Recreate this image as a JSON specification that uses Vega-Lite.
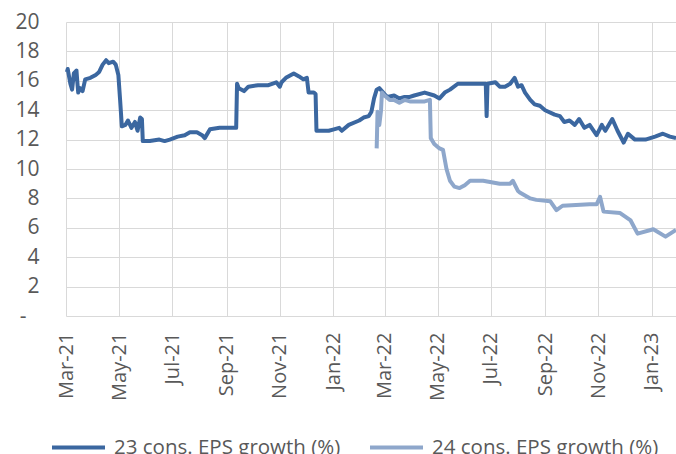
{
  "$schema": "https://vega.github.io/schema/vega-lite/v6.json",
  "autosize": "none",
  "width": 610,
  "height": 294,
  "padding": {"left": 66, "top": 22, "right": 0, "bottom": 138},
  "background": "white",
  "config": {
    "font": "Open Sans",
    "view": {"stroke": null},
    "axis": {"labelFont": "Open Sans", "labelColor": "#595959", "labelFontSize": 21, "gridColor": "#D9D9D9", "gridWidth": 1, "domain": false, "ticks": false, "title": null, "labelOverlap": false}
  },
  "datasets": {
    "d23": [
      {"date": "2021-03-02", "v": 16.6}, {"date": "2021-03-03", "v": 16.8}, {"date": "2021-03-06", "v": 15.8}, {"date": "2021-03-08", "v": 15.4},
      {"date": "2021-03-10", "v": 16.5}, {"date": "2021-03-13", "v": 16.7}, {"date": "2021-03-14", "v": 15.9}, {"date": "2021-03-15", "v": 15.2},
      {"date": "2021-03-17", "v": 15.5}, {"date": "2021-03-20", "v": 15.3}, {"date": "2021-03-23", "v": 16.1}, {"date": "2021-03-29", "v": 16.2},
      {"date": "2021-04-04", "v": 16.4}, {"date": "2021-04-08", "v": 16.6}, {"date": "2021-04-12", "v": 17.1}, {"date": "2021-04-16", "v": 17.4},
      {"date": "2021-04-19", "v": 17.2}, {"date": "2021-04-24", "v": 17.3}, {"date": "2021-04-27", "v": 17.1}, {"date": "2021-04-30", "v": 16.4},
      {"date": "2021-05-02", "v": 14.7}, {"date": "2021-05-04", "v": 12.9}, {"date": "2021-05-08", "v": 13.0}, {"date": "2021-05-11", "v": 13.3},
      {"date": "2021-05-15", "v": 12.8}, {"date": "2021-05-19", "v": 13.2}, {"date": "2021-05-22", "v": 12.6}, {"date": "2021-05-25", "v": 13.5},
      {"date": "2021-05-27", "v": 13.4}, {"date": "2021-05-28", "v": 11.9}, {"date": "2021-06-05", "v": 11.9}, {"date": "2021-06-16", "v": 12.0},
      {"date": "2021-06-22", "v": 11.9}, {"date": "2021-06-28", "v": 12.0}, {"date": "2021-07-07", "v": 12.2}, {"date": "2021-07-15", "v": 12.3},
      {"date": "2021-07-21", "v": 12.5}, {"date": "2021-07-29", "v": 12.5}, {"date": "2021-08-04", "v": 12.3}, {"date": "2021-08-07", "v": 12.1},
      {"date": "2021-08-13", "v": 12.7}, {"date": "2021-08-24", "v": 12.8}, {"date": "2021-09-12", "v": 12.8}, {"date": "2021-09-13", "v": 15.8},
      {"date": "2021-09-15", "v": 15.5}, {"date": "2021-09-21", "v": 15.3}, {"date": "2021-09-26", "v": 15.6}, {"date": "2021-10-07", "v": 15.7},
      {"date": "2021-10-19", "v": 15.7}, {"date": "2021-10-28", "v": 15.9}, {"date": "2021-11-01", "v": 15.6}, {"date": "2021-11-03", "v": 15.9},
      {"date": "2021-11-08", "v": 16.2}, {"date": "2021-11-17", "v": 16.5}, {"date": "2021-11-23", "v": 16.3}, {"date": "2021-11-28", "v": 16.1},
      {"date": "2021-12-02", "v": 16.2}, {"date": "2021-12-04", "v": 15.2}, {"date": "2021-12-10", "v": 15.2}, {"date": "2021-12-12", "v": 15.1},
      {"date": "2021-12-13", "v": 12.6}, {"date": "2021-12-27", "v": 12.6}, {"date": "2022-01-02", "v": 12.7}, {"date": "2022-01-08", "v": 12.8},
      {"date": "2022-01-11", "v": 12.6}, {"date": "2022-01-19", "v": 13.0}, {"date": "2022-01-31", "v": 13.3}, {"date": "2022-02-05", "v": 13.5},
      {"date": "2022-02-11", "v": 13.6}, {"date": "2022-02-14", "v": 13.9}, {"date": "2022-02-17", "v": 14.8}, {"date": "2022-02-20", "v": 15.4},
      {"date": "2022-02-23", "v": 15.5}, {"date": "2022-03-01", "v": 15.1}, {"date": "2022-03-04", "v": 14.9}, {"date": "2022-03-12", "v": 15.0},
      {"date": "2022-03-18", "v": 14.8}, {"date": "2022-03-24", "v": 14.9}, {"date": "2022-03-30", "v": 14.9}, {"date": "2022-04-04", "v": 15.0},
      {"date": "2022-04-16", "v": 15.2}, {"date": "2022-04-27", "v": 15.0}, {"date": "2022-05-03", "v": 14.8}, {"date": "2022-05-09", "v": 15.2},
      {"date": "2022-05-15", "v": 15.4}, {"date": "2022-05-24", "v": 15.8}, {"date": "2022-06-01", "v": 15.8}, {"date": "2022-06-25", "v": 15.8},
      {"date": "2022-06-26", "v": 13.6}, {"date": "2022-06-27", "v": 15.8}, {"date": "2022-07-06", "v": 15.9}, {"date": "2022-07-11", "v": 15.6},
      {"date": "2022-07-17", "v": 15.6}, {"date": "2022-07-23", "v": 15.8}, {"date": "2022-07-28", "v": 16.2}, {"date": "2022-08-01", "v": 15.6},
      {"date": "2022-08-05", "v": 15.7}, {"date": "2022-08-09", "v": 15.2}, {"date": "2022-08-15", "v": 14.7}, {"date": "2022-08-20", "v": 14.4},
      {"date": "2022-08-26", "v": 14.3}, {"date": "2022-09-01", "v": 14.0}, {"date": "2022-09-12", "v": 13.7}, {"date": "2022-09-18", "v": 13.6},
      {"date": "2022-09-23", "v": 13.2}, {"date": "2022-09-29", "v": 13.3}, {"date": "2022-10-05", "v": 13.0}, {"date": "2022-10-10", "v": 13.4},
      {"date": "2022-10-16", "v": 12.8}, {"date": "2022-10-22", "v": 13.0}, {"date": "2022-10-30", "v": 12.3}, {"date": "2022-11-05", "v": 13.0},
      {"date": "2022-11-09", "v": 12.6}, {"date": "2022-11-17", "v": 13.4}, {"date": "2022-11-23", "v": 12.6}, {"date": "2022-11-30", "v": 11.8},
      {"date": "2022-12-05", "v": 12.4}, {"date": "2022-12-13", "v": 12.0}, {"date": "2022-12-25", "v": 12.0}, {"date": "2023-01-05", "v": 12.2},
      {"date": "2023-01-14", "v": 12.4}, {"date": "2023-01-22", "v": 12.2}, {"date": "2023-01-29", "v": 12.1}
    ],
    "d24": [
      {"date": "2022-02-20", "v": 11.4}, {"date": "2022-02-21", "v": 13.9}, {"date": "2022-02-23", "v": 13.0}, {"date": "2022-02-25", "v": 14.0},
      {"date": "2022-02-26", "v": 15.2}, {"date": "2022-03-01", "v": 15.0}, {"date": "2022-03-07", "v": 14.7}, {"date": "2022-03-12", "v": 14.7},
      {"date": "2022-03-18", "v": 14.5}, {"date": "2022-03-24", "v": 14.7}, {"date": "2022-03-30", "v": 14.6}, {"date": "2022-04-04", "v": 14.6},
      {"date": "2022-04-16", "v": 14.6}, {"date": "2022-04-22", "v": 14.7}, {"date": "2022-04-23", "v": 12.1}, {"date": "2022-04-27", "v": 11.7},
      {"date": "2022-05-03", "v": 11.4}, {"date": "2022-05-07", "v": 11.3}, {"date": "2022-05-11", "v": 10.0}, {"date": "2022-05-15", "v": 9.2},
      {"date": "2022-05-20", "v": 8.8}, {"date": "2022-05-26", "v": 8.7}, {"date": "2022-06-01", "v": 8.9}, {"date": "2022-06-07", "v": 9.2},
      {"date": "2022-06-22", "v": 9.2}, {"date": "2022-07-11", "v": 9.0}, {"date": "2022-07-23", "v": 9.0}, {"date": "2022-07-26", "v": 9.2},
      {"date": "2022-08-01", "v": 8.5}, {"date": "2022-08-03", "v": 8.4}, {"date": "2022-08-15", "v": 8.0}, {"date": "2022-08-22", "v": 7.9},
      {"date": "2022-09-07", "v": 7.8}, {"date": "2022-09-14", "v": 7.2}, {"date": "2022-09-21", "v": 7.5}, {"date": "2022-10-22", "v": 7.6},
      {"date": "2022-10-30", "v": 7.6}, {"date": "2022-11-03", "v": 8.1}, {"date": "2022-11-07", "v": 7.1}, {"date": "2022-11-26", "v": 7.0},
      {"date": "2022-12-08", "v": 6.5}, {"date": "2022-12-16", "v": 5.6}, {"date": "2023-01-03", "v": 5.9}, {"date": "2023-01-17", "v": 5.4},
      {"date": "2023-01-29", "v": 5.85}
    ]
  },
  "encoding": {
    "x": {"field": "date", "type": "temporal", "scale": {"type": "utc", "domain": [{"year": 2021, "month": 3, "date": 1, "utc": true}, {"year": 2023, "month": 1, "date": 29, "utc": true}]},
      "axis": {"values": [
        {"year": 2021, "month": 3, "date": 1, "utc": true}, {"year": 2021, "month": 5, "date": 1, "utc": true}, {"year": 2021, "month": 7, "date": 1, "utc": true},
        {"year": 2021, "month": 9, "date": 1, "utc": true}, {"year": 2021, "month": 11, "date": 1, "utc": true}, {"year": 2022, "month": 1, "date": 1, "utc": true},
        {"year": 2022, "month": 3, "date": 1, "utc": true}, {"year": 2022, "month": 5, "date": 1, "utc": true}, {"year": 2022, "month": 7, "date": 1, "utc": true},
        {"year": 2022, "month": 9, "date": 1, "utc": true}, {"year": 2022, "month": 11, "date": 1, "utc": true}, {"year": 2023, "month": 1, "date": 1, "utc": true}],
        "labelExpr": "utcFormat(datum.value, '%b-%y')", "labelAngle": 270, "labelAlign": "right", "labelBaseline": "middle", "labelPadding": 16, "labelFontSize": 20, "grid": true, "labelOverlap": false, "labelFlush": false}},
    "y": {"field": "v", "type": "quantitative", "scale": {"domain": [0, 20], "nice": false, "zero": true},
      "axis": {"values": [0, 2, 4, 6, 8, 10, 12, 14, 16, 18, 20], "labelExpr": "datum.value === 0 ? '-' : datum.label",
        "labelPadding": {"condition": {"test": "datum.value === 0", "value": 40}, "value": 27},
        "grid": true, "labelFontSize": 21, "labelOverlap": false, "labelBaseline": "middle", "labelBound": false}},
    "color": {"field": "series", "type": "nominal",
      "scale": {"domain": ["23 cons. EPS growth (%)", "24 cons. EPS growth (%)"], "range": ["#3B67A0", "#8EA7CB"]},
      "legend": {"orient": "none", "legendX": -16, "legendY": 397, "direction": "horizontal", "title": null, "symbolType": "stroke", "symbolSize": 2809, "symbolStrokeWidth": 4, "labelFontSize": 20.5, "labelColor": "#595959", "labelFont": "Open Sans", "labelOffset": 7, "columnPadding": 21, "padding": 0, "labelLimit": 0}}
  },
  "layer": [
    {
      "data": {"name": "d23"},
      "transform": [{"calculate": "'23 cons. EPS growth (%)'", "as": "series"}],
      "mark": {"type": "line", "strokeWidth": 4, "strokeJoin": "round"}
    },
    {
      "data": {"name": "d24"},
      "transform": [{"calculate": "'24 cons. EPS growth (%)'", "as": "series"}],
      "mark": {"type": "line", "strokeWidth": 4, "strokeJoin": "round"}
    }
  ]
}
